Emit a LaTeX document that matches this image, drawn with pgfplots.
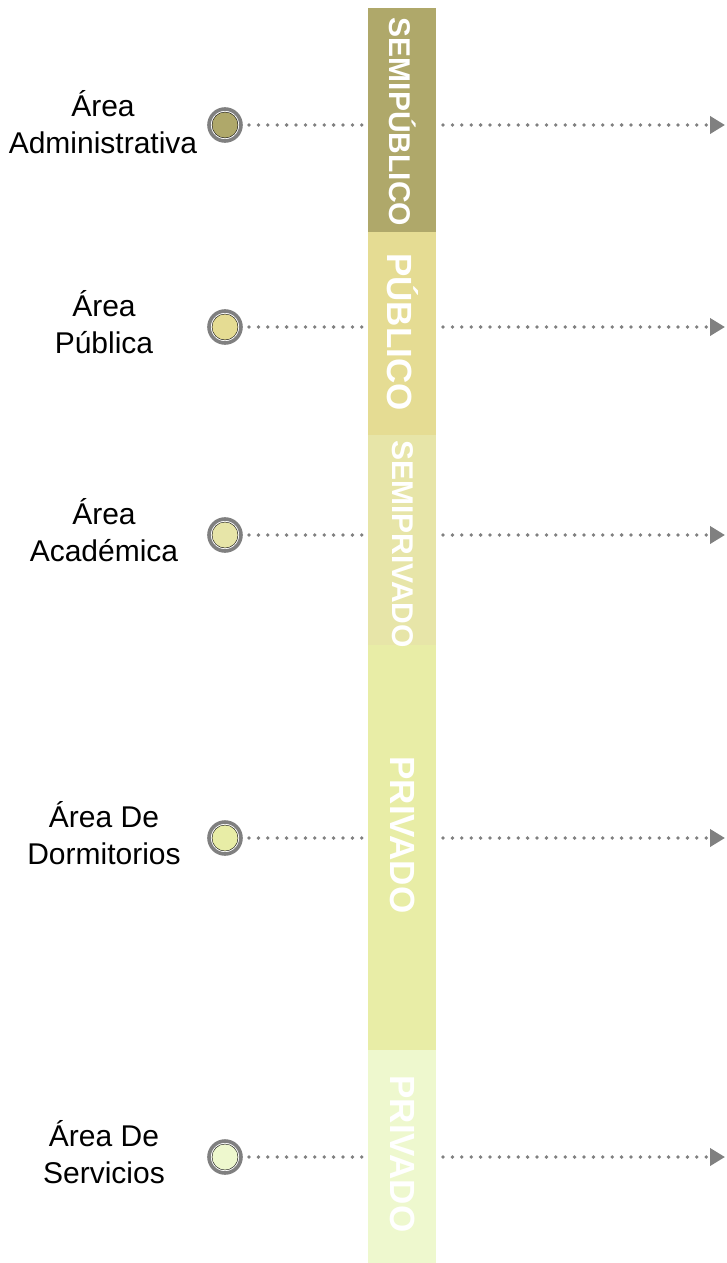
\documentclass[border=0pt]{standalone}
\usepackage{pgfplots}
\pgfplotsset{compat=1.18}
\usepackage{pgfplotstable}
\usetikzlibrary{arrows.meta}
\usepackage{fontspec}
\setmainfont{Liberation Sans}

\definecolor{zoneA}{RGB}{175,168,106}
\definecolor{zoneB}{RGB}{229,220,147}
\definecolor{zoneC}{RGB}{231,229,168}
\definecolor{zoneD}{RGB}{232,237,166}
\definecolor{zoneE}{RGB}{238,248,206}
\definecolor{dotgray}{RGB}{128,128,128}

% circle markers: x, y (pixels from top), class
\pgfplotstableread{
x   y    c
225 125  a
225 327  b
225 535  c
225 838  d
225 1157 e
}\circles

\begin{document}
\begin{tikzpicture}
\begin{axis}[
	scale only axis,
	width=724pt, height=1263pt,
	xmin=0, xmax=724, ymin=0, ymax=1263,
	y dir=reverse,
	hide axis,
	clip=false,
	]
	\path (axis cs:0,0) rectangle (axis cs:724,1263);
	% zone bar
	\addplot[fill=zoneA, draw=none] coordinates {(368,8) (436,8) (436,232) (368,232)} -- cycle;
	\addplot[fill=zoneB, draw=none] coordinates {(368,232) (436,232) (436,435) (368,435)} -- cycle;
	\addplot[fill=zoneC, draw=none] coordinates {(368,435) (436,435) (436,645) (368,645)} -- cycle;
	\addplot[fill=zoneD, draw=none] coordinates {(368,645) (436,645) (436,1050) (368,1050)} -- cycle;
	\addplot[fill=zoneE, draw=none] coordinates {(368,1050) (436,1050) (436,1263) (368,1263)} -- cycle;
	% dotted connectors
	\pgfplotsinvokeforeach{125,327,535,838,1157}{
		\addplot[dotgray, line width=3.8pt, line cap=round, dash pattern=on 0pt off 9.4pt]
			coordinates {(249,#1) (366,#1)};
		\addplot[dotgray, line width=3.8pt, line cap=round, dash pattern=on 0pt off 9.4pt,
			-{Triangle[length=15pt,width=17pt]}]
			coordinates {(443,#1) (725,#1)};
	}
	% rings
	\addplot[only marks, mark=*, mark size=16pt,
		mark options={draw=dotgray, fill=white, line width=3.6pt}] table[x=x, y=y] {\circles};
	% filled dots
	\addplot[scatter, only marks, mark=*, mark size=13pt,
		scatter src=explicit symbolic,
		scatter/classes={
			a={draw=none, fill=zoneA},
			b={draw=none, fill=zoneB},
			c={draw=none, fill=zoneC},
			d={draw=none, fill=zoneD},
			e={draw=none, fill=zoneE}}]
		table[x=x, y=y, meta=c] {\circles};
	% zone names
	\begin{scope}[every node/.style={rotate=-90, text=white, font=\bfseries}]
	\node[font=\fontsize{30}{30}\selectfont\bfseries] at (axis cs:403,122) {SEMIPÚBLICO};
	\node[font=\fontsize{35}{35}\selectfont\bfseries] at (axis cs:403,332) {PÚBLICO};
	\node[font=\fontsize{30}{30}\selectfont\bfseries] at (axis cs:403,544) {SEMIPRIVADO};
	\node[font=\fontsize{35}{35}\selectfont\bfseries] at (axis cs:403,835) {PRIVADO};
	\node[font=\fontsize{35}{35}\selectfont\bfseries] at (axis cs:403,1154) {PRIVADO};
	\end{scope}
	% area labels
	\begin{scope}[every node/.style={align=center, font=\fontsize{30}{37}\selectfont}]
	\node at (axis cs:103,122) {Área\\Administrativa};
	\node at (axis cs:104,322) {Área\\Pública};
	\node at (axis cs:104,530) {Área\\Académica};
	\node at (axis cs:104,833) {Área De\\Dormitorios};
	\node at (axis cs:104,1152) {Área De\\Servicios};
	\end{scope}
\end{axis}
\end{tikzpicture}
\end{document}
